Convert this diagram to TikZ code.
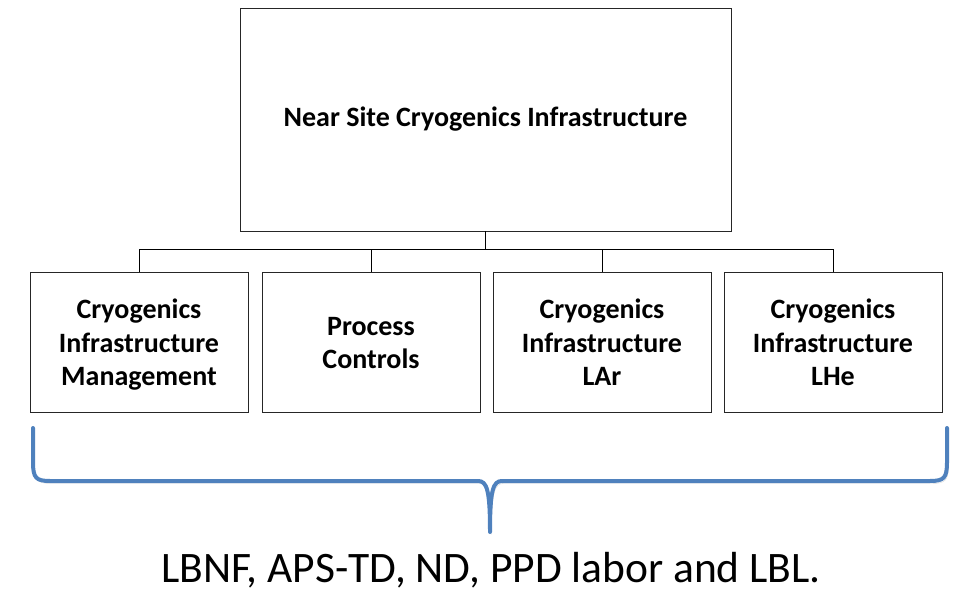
\documentclass[tikz,border=0pt]{standalone}
\usepackage{fontspec}
\setmainfont{Carlito}
\usetikzlibrary{shadows}
\definecolor{bracecol}{RGB}{79,129,189}
\newcommand{\toprow}{\rule{0pt}{30.5pt}}
\begin{document}
\begin{tikzpicture}[x=1pt,y=-1pt,
  box/.style={draw=black!85,line width=0.9pt,fill=white,minimum width=218pt,minimum height=140pt,
    align=center,font=\bfseries\fontsize{28}{33.5}\selectfont,inner sep=0pt},
  topbox/.style={box,minimum width=491pt,minimum height=223pt},
  wire/.style={draw=black,line width=1pt}]
\useasboundingbox (0,0) rectangle (958,593);
\node[topbox] (top) at (485.5,119.5) {Near Site Cryogenics Infrastructure};
\node[box] (b1) at (139,342) {\toprow Cryogenics\\Infrastructure\\Management\strut};
\node[box] (b2) at (371,342) {\toprow Process\\Controls\strut};
\node[box] (b3) at (602,342) {\toprow Cryogenics\\Infrastructure\\LAr\strut};
\node[box] (b4) at (833,342) {\toprow Cryogenics\\Infrastructure\\LHe\strut};
\coordinate (bus) at (485.5,250);
\draw[wire] (top.south) -- (bus);
\foreach \b in {b1,b2,b3,b4}{
  \draw[wire] (bus) -| (\b.north);
}
% brace under the four boxes
\coordinate (bl) at (33,428);
\coordinate (br) at (947,428);
\coordinate (tip) at (490,532);
\draw[bracecol,line width=4pt,line cap=round,line join=round,
  drop shadow={shadow xshift=1.5pt,shadow yshift=-2.5pt,opacity=0.25,fill=none,draw=black!60}]
  (bl) -- (33,462) .. controls (33,478) and (36,481) .. (50,481)
  -- (478,481) .. controls (487,481) and (490,490) .. (tip)
  (tip) .. controls (490,490) and (493,481) .. (502,481)
  -- (930,481) .. controls (944,481) and (947,478) .. (947,462) -- (br);
\node[font=\fontsize{43.5}{48}\selectfont,anchor=base,inner sep=0pt] (lab) at (491,582.5) {LBNF, APS-TD, ND, PPD labor and LBL.};
\end{tikzpicture}
\end{document}
